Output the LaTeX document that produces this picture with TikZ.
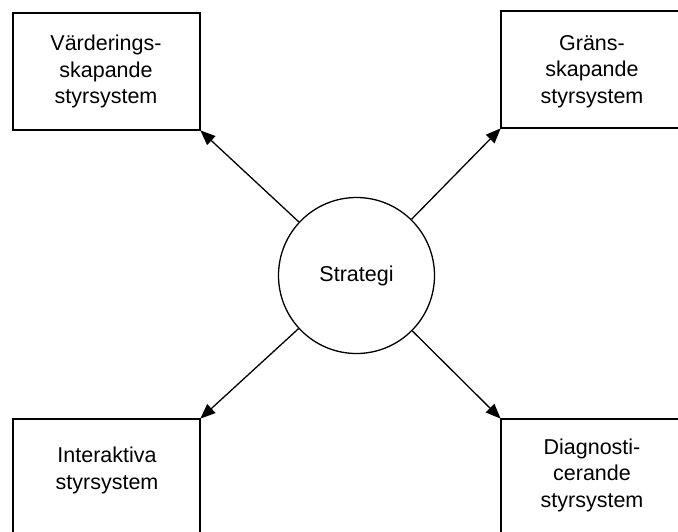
\documentclass[tikz,border=0pt]{standalone}
\usepackage{fontspec}
\setmainfont{Liberation Sans}
\usetikzlibrary{arrows.meta}
\begin{document}
\begin{tikzpicture}[x=1pt,y=-1pt,
  box/.style={draw, line width=1.4pt, rectangle, inner sep=0pt},
  lbl/.style={align=center, font=\fontsize{21.5pt}{26.5pt}\selectfont, inner sep=0pt},
  conn/.style={line width=1.3pt, -{Triangle[length=15pt,width=12pt]}, shorten >=-0.5pt}]
\useasboundingbox (0,0) rectangle (678,531);
\clip (0,0) rectangle (678,531);
\node[box, minimum width=187pt, minimum height=117pt] (vs) at (106.5,71.5) {};
\node[box, minimum width=182pt, minimum height=117pt] (gs) at (592,69.5) {};
\node[box, minimum width=187pt, minimum height=117pt] (is) at (106.5,477.5) {};
\node[box, minimum width=182pt, minimum height=117pt] (ds) at (592,477.5) {};
\node[lbl] (vst) at (106,71.5) {Värderings-\\skapande\\styrsystem};
\node[lbl] (gst) at (592,71.5) {Gräns-\\skapande\\styrsystem};
\node[lbl] (ist) at (107,470.5) {Interaktiva\\styrsystem};
\node[lbl] (dst) at (592,475) {Diagnosti-\\cerande\\styrsystem};
\node[draw, circle, line width=1.3pt, minimum size=156pt, inner sep=0pt, font=\fontsize{21.5pt}{26pt}\selectfont] (c) at (356.5,275.5) {Strategi};
\draw[conn] (c) -- (vs.south east);
\draw[conn] (c) -- (gs.south west);
\draw[conn] (c) -- (is.north east);
\draw[conn] (c) -- (ds.north west);
\end{tikzpicture}
\end{document}
